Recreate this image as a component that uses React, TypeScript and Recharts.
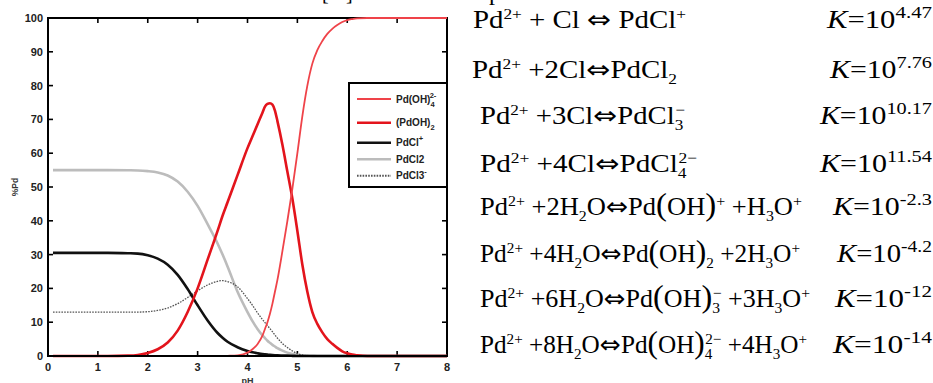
import React from "react";
import { LineChart, Line, XAxis, YAxis, Legend } from "recharts";

// pH grid (denser where the curves move fast)
const PH = [
  0.1, 0.4, 0.8, 1.2, 1.6, 1.8, 2.0, 2.2, 2.4, 2.6, 2.8, 3.0, 3.2, 3.4, 3.5,
  3.6, 3.8, 4.0, 4.1, 4.2, 4.3, 4.35, 4.4, 4.45, 4.5, 4.55, 4.6, 4.7, 4.8, 4.9,
  5.0, 5.1, 5.2, 5.3, 5.4, 5.5, 5.6, 5.7, 5.8, 5.9, 6.0, 6.1, 6.2, 6.4, 6.8,
  7.2, 7.6, 8.0,
];

// %Pd per species
const PD_OH4 = [
  0, 0, 0, 0, 0, 0, 0, 0, 0, 0, 0, 0, 0, 0, 0,
  0.05, 0.2, 1, 2, 3.5, 6, 8, 10, 12.5, 15.5, 19, 22.5, 31, 40, 49.5,
  60, 71, 80, 86.5, 90.5, 93.2, 95.3, 96.8, 97.9, 98.8, 99.4, 99.7, 99.9, 100, 100,
  100, 100, 100,
];
const PDOH_2 = [
  0, 0, 0, 0, 0.1, 0.3, 0.9, 2, 4, 7.5, 13, 20, 28.5, 37, 41.5,
  45.5, 53.5, 61.5, 65, 68.5, 72, 73.8, 74.6, 74.8, 74.4, 72.6, 69.5, 62.5, 54.5, 46.5,
  37, 27, 19, 13, 9.5, 7, 5, 3.6, 2.4, 1.4, 0.8, 0.4, 0.2, 0, 0,
  0, 0, 0,
];
const PDCL = [
  30.5, 30.5, 30.5, 30.5, 30.4, 30.3, 29.8, 28.8, 27, 24, 19.8, 15, 10.5, 6.8, 5.4,
  4.2, 2.6, 1.5, 1.1, 0.8, 0.55, 0.47, 0.4, 0.33, 0.28, 0.24, 0.2, 0.14, 0.1, 0.05,
  0.02, 0, 0, 0, 0, 0, 0, 0, 0, 0, 0, 0, 0, 0, 0,
  0, 0, 0,
];
const PDCL2 = [
  55, 55, 55, 55, 54.95, 54.9, 54.7, 54.3, 53.4, 51.6, 48.6, 44.4, 39, 33.3, 30,
  26.5, 19, 13, 10.3, 8, 6.1, 5.3, 4.5, 3.9, 3.3, 2.8, 2.3, 1.6, 1, 0.6,
  0.3, 0.15, 0.1, 0.05, 0, 0, 0, 0, 0, 0, 0, 0, 0, 0, 0,
  0, 0, 0,
];
const PDCL3 = [
  13, 13, 13, 13, 13, 13, 13.1, 13.5, 14.2, 15.5, 17.3, 19.3, 21, 22.1, 22.3,
  22, 20.5, 17, 15, 12.8, 10.8, 9.9, 9, 8.1, 7.2, 6.2, 5.3, 3.7, 2.5, 1.5,
  0.7, 0.3, 0.1, 0, 0, 0, 0, 0, 0, 0, 0, 0, 0, 0, 0,
  0, 0, 0,
];

const X_TICKS = [0, 1, 2, 3, 4, 5, 6, 7, 8];
const Y_TICKS = [0, 10, 20, 30, 40, 50, 60, 70, 80, 90, 100];
const X_MAX = 8;
const Y_MAX = 100;

const data = PH.map((ph, i) => ({
  ph,
  pdoh4: PD_OH4[i],
  pdoh2: PDOH_2[i],
  pdcl: PDCL[i],
  pdcl2: PDCL2[i],
  pdcl3: PDCL3[i],
}));

type Seg = { t: string; k?: "sup" | "sub"; i?: boolean; back?: number; f?: string; z?: number };

const SERIES: { key: string; color: string; width: number; dash?: string; label: Seg[] }[] = [
  { key: "pdcl2", color: "#bcbcbc", width: 2.6, label: [{ t: "PdCl2" }] },
  { key: "pdcl3", color: "#555", width: 1.3, dash: "1.6 1.2", label: [{ t: "PdCl3" }, { t: "-", k: "sup" }] },
  { key: "pdcl", color: "#111", width: 2.6, label: [{ t: "PdCl" }, { t: "+", k: "sup" }] },
  { key: "pdoh2", color: "#e3141c", width: 2.6, label: [{ t: "(PdOH)" }, { t: "2", k: "sub" }] },
  { key: "pdoh4", color: "#ef4349", width: 1.8, label: [{ t: "Pd(OH)" }, { t: "4", k: "sub" }, { t: "2-", k: "sup", back: 5 }] },
];
const LEGEND_ORDER = ["pdoh4", "pdoh2", "pdcl", "pdcl2", "pdcl3"];
const LEGEND_ROWS = [17, 40.7, 60.7, 77.3, 93.7];

const ARROW: Seg = { t: "⇔", f: "'DejaVu Sans', sans-serif", z: 25 };
const LP: Seg = { t: "(", z: 31 };
const RP: Seg = { t: ")", z: 31 };

// equations shown beside the chart
const EQ_LEFT: Seg[][] = [
  [{ t: "Pd" }, { t: "2+", k: "sup" }, { t: " + Cl " }, ARROW, { t: " PdCl" }, { t: "+", k: "sup" }],
  [{ t: "Pd" }, { t: "2+", k: "sup" }, { t: " +2Cl" }, ARROW, { t: "PdCl" }, { t: "2", k: "sub" }],
  [{ t: "Pd" }, { t: "2+", k: "sup" }, { t: " +3Cl" }, ARROW, { t: "PdCl" }, { t: "3", k: "sub" }, { t: "−", k: "sup", back: 7 }],
  [{ t: "Pd" }, { t: "2+", k: "sup" }, { t: " +4Cl" }, ARROW, { t: "PdCl" }, { t: "4", k: "sub" }, { t: "2−", k: "sup", back: 7 }],
  [{ t: "Pd" }, { t: "2+", k: "sup" }, { t: " +2H" }, { t: "2", k: "sub" }, { t: "O" }, ARROW, { t: "Pd" }, LP, { t: "OH" }, RP, { t: "+", k: "sup" }, { t: " +H" }, { t: "3", k: "sub" }, { t: "O" }, { t: "+", k: "sup" }],
  [{ t: "Pd" }, { t: "2+", k: "sup" }, { t: " +4H" }, { t: "2", k: "sub" }, { t: "O" }, ARROW, { t: "Pd" }, LP, { t: "OH" }, RP, { t: "2", k: "sub" }, { t: " +2H" }, { t: "3", k: "sub" }, { t: "O" }, { t: "+", k: "sup" }],
  [{ t: "Pd" }, { t: "2+", k: "sup" }, { t: " +6H" }, { t: "2", k: "sub" }, { t: "O" }, ARROW, { t: "Pd" }, LP, { t: "OH" }, RP, { t: "3", k: "sub" }, { t: "−", k: "sup", back: 7 }, { t: " +3H" }, { t: "3", k: "sub" }, { t: "O" }, { t: "+", k: "sup" }],
  [{ t: "Pd" }, { t: "2+", k: "sup" }, { t: " +8H" }, { t: "2", k: "sub" }, { t: "O" }, ARROW, { t: "Pd" }, LP, { t: "OH" }, RP, { t: "4", k: "sub" }, { t: "2−", k: "sup", back: 7 }, { t: " +4H" }, { t: "3", k: "sub" }, { t: "O" }, { t: "+", k: "sup" }],
];
const EQ_K = ["4.47", "7.76", "10.17", "11.54", "-2.3", "-4.2", "-12", "-14"];
const EQ_BASE = [28, 78, 124, 172, 215, 262, 307, 353];
const EQ_X = [473, 472, 480, 480, 480, 480, 480, 480];
const EQ_END = [686, 677, 685, 697, 802, 800, 810, 807];
const K_X = [827, 830, 820, 820, 833, 837, 835, 833];

const SANS = "'Liberation Sans', Arial, sans-serif";
const SERIF = "'Liberation Serif', 'Times New Roman', serif";

// chart geometry (plot box comes out of these margins/axis sizes)
const CHART_W = 460;
const CHART_H = 383;
const MARGIN = { top: 18, right: 13, bottom: 7, left: 8 };
const Y_AXIS_W = 40;
const X_AXIS_H = 20;
const BOX = {
  left: MARGIN.left + Y_AXIS_W,
  top: MARGIN.top,
  right: CHART_W - MARGIN.right,
  bottom: CHART_H - MARGIN.bottom - X_AXIS_H,
};
const INNER = 5;

function rich(segs: Seg[], size: number, small: number, up: number, down: number) {
  let cur = 0;
  return segs.map((s, j) => {
    const target = s.k === "sup" ? -up : s.k === "sub" ? down : 0;
    const dy = target - cur;
    cur = target;
    return (
      <tspan
        key={j}
        dy={dy}
        dx={s.back ? -s.back : undefined}
        fontSize={s.z ?? (s.k ? small : size)}
        fontFamily={s.f}
        fontStyle={s.i ? "italic" : undefined}
      >
        {s.t}
      </tspan>
    );
  });
}

const BottomTick = (p: any) => (
  <text x={p.x} y={p.y} dy="0.71em" textAnchor="middle" fontFamily={SANS} fontWeight="bold" fontSize={11} fill="#222">
    {p.payload.value}
  </text>
);
const LeftTick = (p: any) => (
  <text x={p.x} y={p.y} dy="0.355em" textAnchor="end" fontFamily={SANS} fontWeight="bold" fontSize={11} fill="#222">
    {p.payload.value}
  </text>
);

// MATLAB-style box with inward ticks, sitting under the chart
function Frame() {
  const w = BOX.right - BOX.left;
  const h = BOX.bottom - BOX.top;
  const px = (t: number) => BOX.left + (t / X_MAX) * w;
  const py = (t: number) => BOX.bottom - (t / Y_MAX) * h;
  return (
    <svg width={CHART_W} height={CHART_H} style={{ position: "absolute", left: 0, top: 0 }}>
      <rect x={BOX.left} y={BOX.top} width={w} height={h} fill="none" stroke="#000" strokeWidth={2} />
      {X_TICKS.map((t) => (
        <g key={"x" + t} stroke="#000" strokeWidth={1.6}>
          <line x1={px(t)} x2={px(t)} y1={BOX.bottom} y2={BOX.bottom - INNER} />
          <line x1={px(t)} x2={px(t)} y1={BOX.top} y2={BOX.top + INNER} />
        </g>
      ))}
      {Y_TICKS.map((t) => (
        <g key={"y" + t} stroke="#000" strokeWidth={1.6}>
          <line x1={BOX.left} x2={BOX.left + INNER} y1={py(t)} y2={py(t)} />
          <line x1={BOX.right} x2={BOX.right - INNER} y1={py(t)} y2={py(t)} />
        </g>
      ))}
    </svg>
  );
}

function LegendBox() {
  return (
    <svg width={100} height={106} style={{ display: "block" }}>
      <rect x={1} y={1} width={98} height={104} fill="#fff" stroke="#000" strokeWidth={2} />
      {LEGEND_ORDER.map((k, i) => {
        const s = SERIES.find((d) => d.key === k)!;
        const cy = LEGEND_ROWS[i];
        return (
          <g key={k}>
            <line x1={9} x2={43} y1={cy} y2={cy} stroke={s.color} strokeWidth={s.width < 2 ? 2 : 2.4} strokeDasharray={s.dash} />
            <text x={48} y={cy + 3.6} fontFamily={SANS} fontWeight="bold" fontSize={10} fill="#222">
              {rich(s.label, 10, 7.5, 5, 4)}
            </text>
          </g>
        );
      })}
    </svg>
  );
}

export default function App() {
  return (
    <div style={{ position: "absolute", left: 0, top: 0, width: 933, height: 383, background: "#fff", overflow: "hidden" }}>
      <Frame />
      <div style={{ position: "absolute", left: 0, top: 0 }}>
        <LineChart width={CHART_W} height={CHART_H} data={data} margin={MARGIN}>
          <XAxis
            dataKey="ph"
            type="number"
            domain={[0, X_MAX]}
            ticks={X_TICKS}
            interval={0}
            height={X_AXIS_H}
            tickSize={4}
            tickMargin={3}
            tickLine={false}
            axisLine={{ stroke: "#000", strokeWidth: 2 }}
            tick={BottomTick}
            label={(p: any) => (
              <text x={p.viewBox.x + p.viewBox.width / 2} y={p.viewBox.y + 28} textAnchor="middle" fontFamily={SANS} fontWeight="bold" fontSize={9} fill="#333">
                pH
              </text>
            )}
          />
          <YAxis
            type="number"
            domain={[0, Y_MAX]}
            ticks={Y_TICKS}
            interval={0}
            width={Y_AXIS_W}
            tickSize={2}
            tickMargin={3}
            tickLine={false}
            axisLine={{ stroke: "#000", strokeWidth: 2 }}
            tick={LeftTick}
            label={(p: any) => {
              const cx = p.viewBox.x + 7;
              const cy = p.viewBox.y + p.viewBox.height / 2;
              return (
                <text x={cx} y={cy} transform={`rotate(-90 ${cx} ${cy})`} textAnchor="middle" dy="0.35em" fontFamily={SANS} fontWeight="bold" fontSize={8.5} fill="#333">
                  %Pd
                </text>
              );
            }}
          />
          {SERIES.map((s) => (
            <Line
              key={s.key}
              type="monotone"
              dataKey={s.key}
              stroke={s.color}
              strokeWidth={s.width}
              strokeDasharray={s.dash}
              dot={false}
              activeDot={false}
              isAnimationActive={false}
            />
          ))}
          <Legend
            layout="vertical"
            align="center"
            verticalAlign="middle"
            content={() => <LegendBox />}
            wrapperStyle={{ position: "absolute", left: 348, top: 82, width: 100, height: 106, margin: 0 }}
          />
        </LineChart>
      </div>
      <svg width={933} height={383} style={{ position: "absolute", left: 0, top: 0, pointerEvents: "none" }}>
        <text x={322} y={0} fontFamily={SERIF} fontSize={20} fill="#000">[</text>
        <text x={346} y={0} fontFamily={SERIF} fontSize={20} fill="#000">]</text>
        <text x={489} y={0} fontFamily={SERIF} fontSize={24} fill="#000">p</text>
        {EQ_LEFT.map((segs, i) => (
          <text
            key={"l" + i}
            x={EQ_X[i]}
            y={EQ_BASE[i]}
            fontFamily={SERIF}
            fontSize={25}
            fill="#000"
            textLength={EQ_END[i] - EQ_X[i]}
            lengthAdjust="spacingAndGlyphs"
          >
            {rich(segs, 25, 15, 9, 6)}
          </text>
        ))}
        {EQ_K.map((e, i) => (
          <text
            key={"k" + i}
            x={K_X[i]}
            y={EQ_BASE[i]}
            fontFamily={SERIF}
            fontSize={25}
            fill="#000"
            textLength={932 - K_X[i]}
            lengthAdjust="spacingAndGlyphs"
          >
            {rich([{ t: "K", i: true }, { t: "=10" }, { t: e, k: "sup" }], 25, 17, 10, 0)}
          </text>
        ))}
      </svg>
    </div>
  );
}
